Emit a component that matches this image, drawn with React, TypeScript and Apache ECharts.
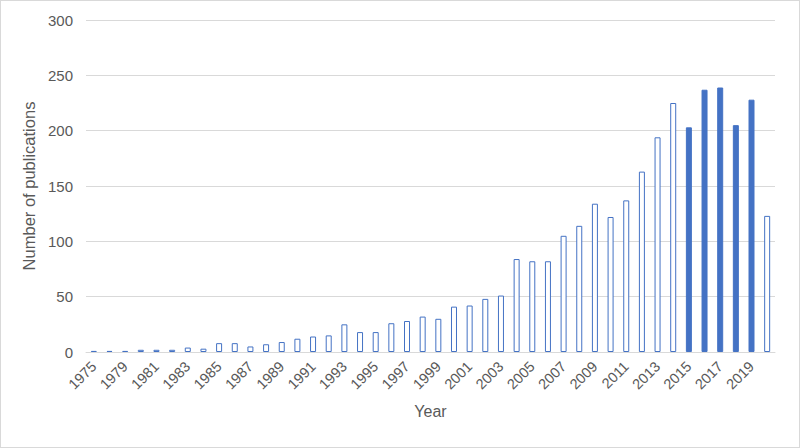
import React, { useEffect, useRef } from "react";
import * as echarts from "echarts";

const years: string[] = [
  "1975", "1977", "1979", "1980", "1981", "1982", "1983", "1984", "1985", "1986",
  "1987", "1988", "1989", "1990", "1991", "1992", "1993", "1994", "1995", "1996",
  "1997", "1998", "1999", "2000", "2001", "2002", "2003", "2004", "2005", "2006",
  "2007", "2008", "2009", "2010", "2011", "2012", "2013", "2014", "2015", "2016",
  "2017", "2018", "2019", "2020",
];

const publications: number[] = [
  1, 1, 1, 2, 2, 2, 4, 3, 8, 8,
  5, 7, 9, 12, 14, 15, 25, 18, 18, 26,
  28, 32, 30, 41, 42, 48, 51, 84, 82, 82,
  105, 114, 134, 122, 137, 163, 194, 225, 203, 237,
  239, 205, 228, 123,
];

const highlightedYears: string[] = ["2015", "2016", "2017", "2018", "2019"];

const yTicks = { min: 0, max: 300, interval: 50 };

export default function App() {
  const ref = useRef<HTMLDivElement>(null);

  useEffect(() => {
    if (!ref.current) return;
    const chart = echarts.init(ref.current, undefined, { renderer: "svg" });
    const blue = "#4472C4";
    const font = "'Liberation Sans', Arial, sans-serif";
    chart.setOption({
      animation: false,
      backgroundColor: "#ffffff",
      grid: { left: 85, right: 24, top: 19, bottom: 95, containLabel: false },
      xAxis: {
        type: "category",
        data: years,
        name: "Year",
        nameLocation: "middle",
        nameGap: 51,
        nameTextStyle: { color: "#595959", fontSize: 16, fontFamily: font },
        axisLine: { lineStyle: { color: "#d9d9d9" } },
        axisTick: { show: false },
        axisLabel: {
          interval: 1,
          rotate: 45,
          color: "#595959",
          fontSize: 14.5,
          fontFamily: font,
          margin: 12,
        },
      },
      yAxis: {
        type: "value",
        min: yTicks.min,
        max: yTicks.max,
        interval: yTicks.interval,
        name: "Number of publications",
        nameLocation: "middle",
        nameGap: 45,
        nameTextStyle: { color: "#595959", fontSize: 16.5, fontFamily: font },
        axisLine: { show: false },
        axisTick: { show: false },
        axisLabel: { color: "#595959", fontSize: 15, fontFamily: font, margin: 13 },
        splitLine: { lineStyle: { color: "#d9d9d9" } },
      },
      series: [
        {
          type: "bar",
          barWidth: 6,
          data: publications.map((v, i) => {
            const hl = highlightedYears.includes(years[i]);
            return {
              value: v,
              itemStyle: hl
                ? { color: blue, borderColor: blue, borderWidth: 1 }
                : { color: "#ffffff", borderColor: blue, borderWidth: 1 },
            };
          }),
        },
      ],
    });
    return () => chart.dispose();
  }, []);

  return (
    <div
      style={{
        position: "fixed",
        left: 0,
        top: 0,
        width: 800,
        height: 448,
        boxSizing: "border-box",
        border: "1px solid #d9d9d9",
        background: "#fff",
      }}
    >
      <div ref={ref} style={{ width: 798, height: 446 }} />
    </div>
  );
}
